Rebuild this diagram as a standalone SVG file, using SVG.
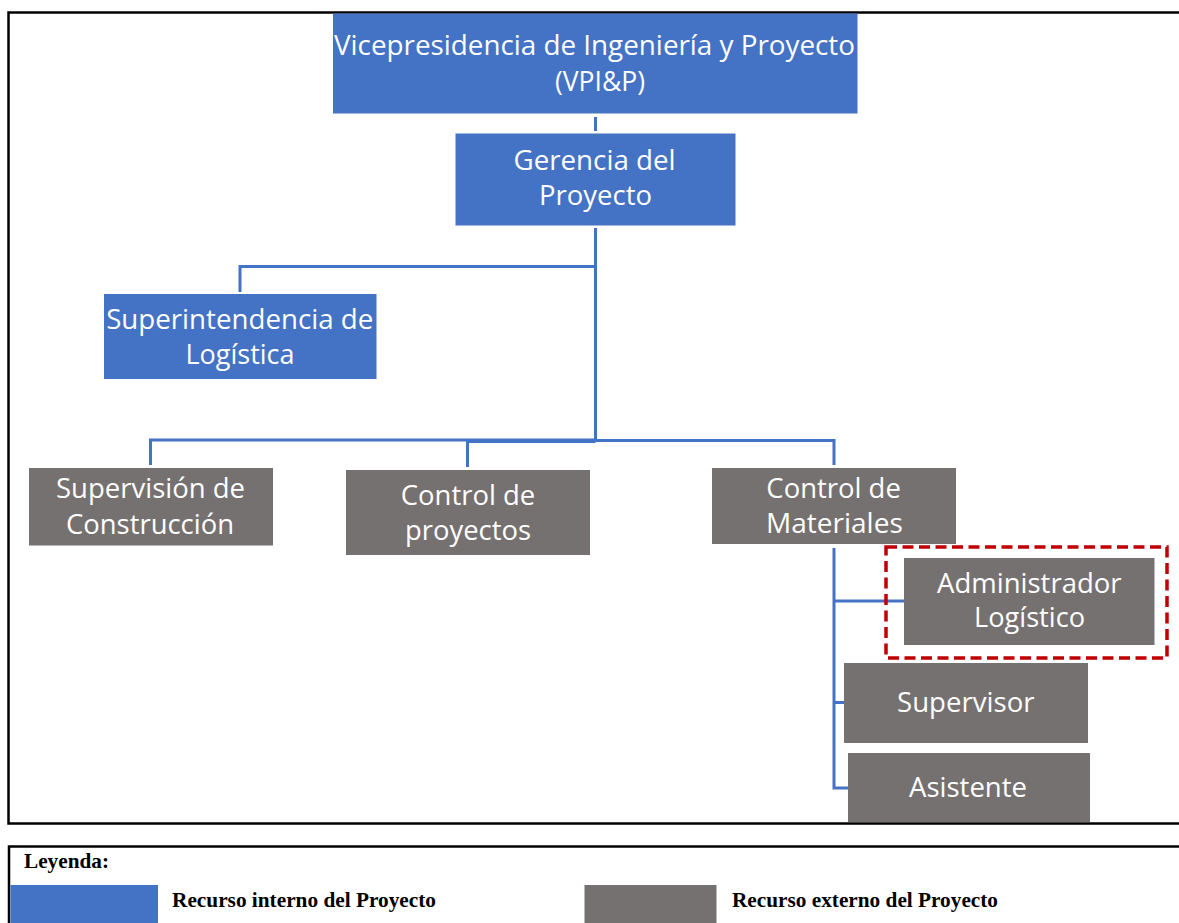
<svg xmlns="http://www.w3.org/2000/svg" width="1179" height="923" viewBox="0 0 1179 923">
<style>
.int{fill:#4472C4}
.ext{fill:#767171}
.t{font-family:"Open Sans","Noto Sans",sans-serif;font-size:28px;fill:#ffffff;text-anchor:middle}
.lg{font-family:"Liberation Serif","Times New Roman",serif;font-size:21px;font-weight:bold;fill:#000000}
.con{stroke:#4472C4;stroke-width:3;fill:none}
.frame{fill:none;stroke:#000000;stroke-width:2.5}
</style>
<rect width="1179" height="923" fill="#ffffff"/>
<rect class="frame" x="8.5" y="12.5" width="1200" height="811"/>
<g id="connectors">
<line class="con" x1="595.5" y1="117" x2="595.5" y2="131"/>
<polyline class="con" points="595.5,228 595.5,441.5"/>
<polyline class="con" points="595.5,266.5 240,266.5 240,292"/>
<polyline class="con" points="150.5,465 150.5,440 595.5,440"/>
<polyline class="con" points="467.5,467 467.5,441.5 595.5,441.5"/>
<polyline class="con" points="595.5,440.5 834,440.5 834,465"/>
<polyline class="con" points="834,548 834,788 848,788"/>
<line class="con" x1="834" y1="601" x2="904" y2="601"/>
<line class="con" x1="834" y1="702.5" x2="844" y2="702.5"/>
</g>
<g id="vpip">
<rect class="int" x="333" y="13.5" width="524.5" height="100"/>
<text class="t" x="594.5" y="54.5" textLength="521" lengthAdjust="spacingAndGlyphs">Vicepresidencia de Ingeniería y Proyecto</text>
<text class="t" x="600" y="90.5" textLength="90" lengthAdjust="spacingAndGlyphs">(VPI&amp;P)</text>
</g>
<g id="gerencia">
<rect class="int" x="455.5" y="133.5" width="280" height="92"/>
<text class="t" x="594.5" y="170" textLength="162" lengthAdjust="spacingAndGlyphs">Gerencia del</text>
<text class="t" x="595.5" y="205" textLength="113" lengthAdjust="spacingAndGlyphs">Proyecto</text>
</g>
<g id="superintendencia">
<rect class="int" x="104" y="294" width="272.5" height="85"/>
<text class="t" x="239.7" y="329" textLength="267" lengthAdjust="spacingAndGlyphs">Superintendencia de</text>
<text class="t" x="240" y="364" textLength="109" lengthAdjust="spacingAndGlyphs">Logística</text>
</g>
<g id="supervision">
<rect class="ext" x="29" y="468" width="244" height="77.5"/>
<text class="t" x="150.5" y="498.3" textLength="189" lengthAdjust="spacingAndGlyphs">Supervisión de</text>
<text class="t" x="150" y="533.5" textLength="168" lengthAdjust="spacingAndGlyphs">Construcción</text>
</g>
<g id="controlproyectos">
<rect class="ext" x="346" y="470" width="244" height="85"/>
<text class="t" x="468" y="504.5" textLength="134.3" lengthAdjust="spacingAndGlyphs">Control de</text>
<text class="t" x="468" y="540" textLength="126" lengthAdjust="spacingAndGlyphs">proyectos</text>
</g>
<g id="controlmateriales">
<rect class="ext" x="712" y="468" width="244" height="76"/>
<text class="t" x="833.6" y="498.3" textLength="134.5" lengthAdjust="spacingAndGlyphs">Control de</text>
<text class="t" x="834.4" y="533.3" textLength="136.8" lengthAdjust="spacingAndGlyphs">Materiales</text>
</g>
<g id="administrador">
<rect x="886" y="547" width="281" height="111" fill="none" stroke="#C00000" stroke-width="3.5" stroke-dasharray="11,5.5"/>
<rect class="ext" x="904" y="558" width="250.5" height="87"/>
<text class="t" x="1029.3" y="592.7" textLength="184.6" lengthAdjust="spacingAndGlyphs">Administrador</text>
<text class="t" x="1029.5" y="627.3" textLength="111" lengthAdjust="spacingAndGlyphs">Logístico</text>
</g>
<g id="supervisor">
<rect class="ext" x="844" y="663" width="244" height="80"/>
<text class="t" x="965.8" y="711.7" textLength="137.5" lengthAdjust="spacingAndGlyphs">Supervisor</text>
</g>
<g id="asistente">
<rect class="ext" x="848" y="753" width="242" height="69"/>
<text class="t" x="968" y="796.7" textLength="118" lengthAdjust="spacingAndGlyphs">Asistente</text>
</g>
<g id="legend">
<rect class="frame" x="9" y="846.5" width="1200" height="100"/>
<text class="lg" x="24" y="868" textLength="85" lengthAdjust="spacingAndGlyphs">Leyenda:</text>
<rect class="int" x="10.5" y="885" width="147.5" height="40"/>
<text class="lg" x="172" y="907" textLength="264" lengthAdjust="spacingAndGlyphs">Recurso interno del Proyecto</text>
<rect class="ext" x="584.5" y="885" width="132" height="40"/>
<text class="lg" x="732" y="907" textLength="266" lengthAdjust="spacingAndGlyphs">Recurso externo del Proyecto</text>
</g>
</svg>
